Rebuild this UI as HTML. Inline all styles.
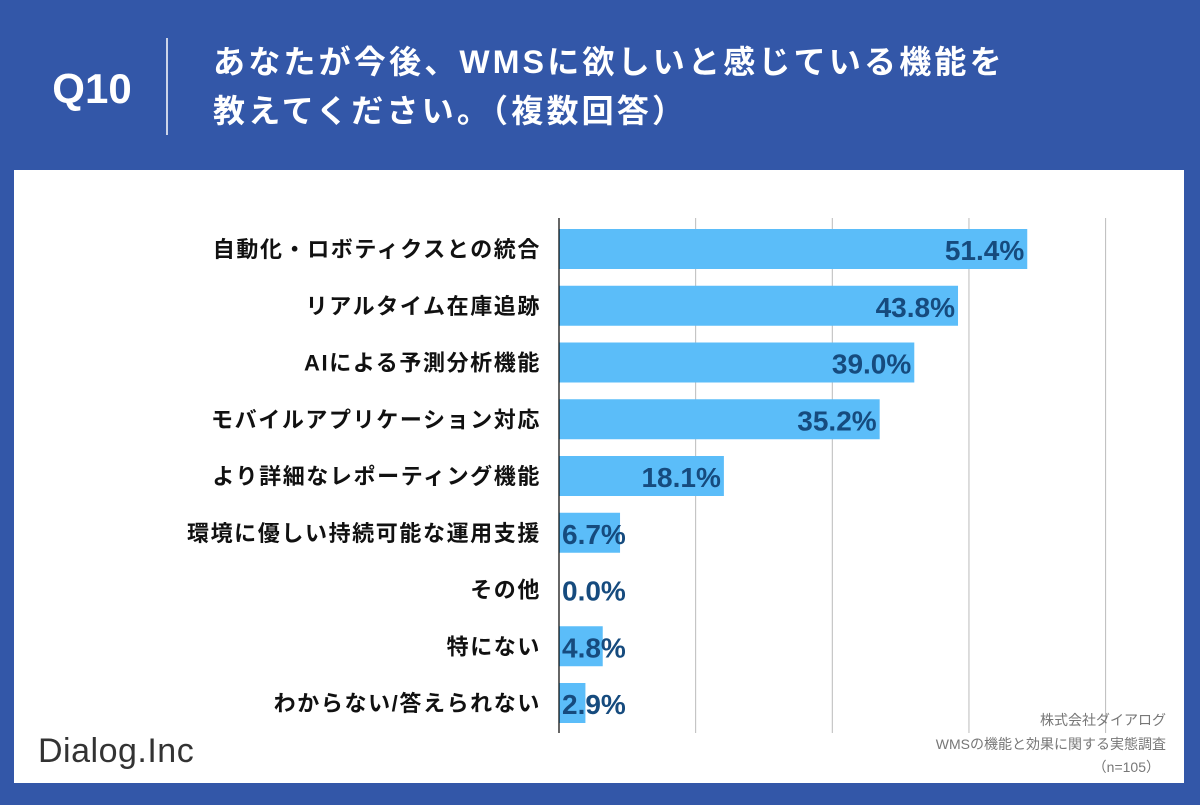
<!DOCTYPE html>
<html><head><meta charset="utf-8"><style>
body{margin:0;width:1200px;height:800px;background:#3357a8;font-family:"Liberation Sans","Noto Sans CJK JP",sans-serif;overflow:hidden}
</style></head><body>
<svg width="1200" height="800" xmlns="http://www.w3.org/2000/svg">
<rect x="0" y="0" width="1200" height="800" fill="#3357a8"/>
<text x="92" y="103" font-size="42" font-weight="bold" fill="#fff" text-anchor="middle" font-family="Liberation Sans, sans-serif">Q10</text>
<line x1="167" y1="38" x2="167" y2="135" stroke="#fff" stroke-width="1.5"/>
<text x="213" y="73" font-size="32" font-weight="bold" fill="#fff" letter-spacing="3.2" font-family="Liberation Sans, Noto Sans CJK JP, sans-serif">あなたが今後、WMSに欲しいと感じている機能を</text>
<text x="213" y="122" font-size="32" font-weight="bold" fill="#fff" letter-spacing="3.2" font-family="Liberation Sans, Noto Sans CJK JP, sans-serif">教えてください。（複数回答）</text>
<rect x="14" y="170" width="1170" height="613" fill="#fff"/>
<g id="grid"></g><g id="bars"></g>
<text x="38" y="762" font-size="34" fill="#333" letter-spacing="0.5" font-family="Liberation Sans, sans-serif">Dialog.Inc</text>
<g font-size="14" fill="#777" text-anchor="end" font-family="Liberation Sans, Noto Sans CJK JP, sans-serif">
<text x="1166" y="725">株式会社ダイアログ</text>
<text x="1166" y="749">WMSの機能と効果に関する実態調査</text>
<text x="1160" y="772">（n=105）</text>
</g>
</svg>
<script>
const categories=["自動化・ロボティクスとの統合","リアルタイム在庫追跡","AIによる予測分析機能","モバイルアプリケーション対応","より詳細なレポーティング機能","環境に優しい持続可能な運用支援","その他","特にない","わからない/答えられない"];
const values=[51.4,43.8,39.0,35.2,18.1,6.7,0.0,4.8,2.9];
const gridTicks=[15,30,45,60];
const NS="http://www.w3.org/2000/svg";
const x0=559,pxPer=9.11,top0=229,step=56.75,bh=40,axisTop=218,axisBot=733;
const xs=v=>x0+v*pxPer;
function mk(tag,attrs,parent){const e=document.createElementNS(NS,tag);for(const k in attrs)e.setAttribute(k,attrs[k]);parent.appendChild(e);return e;}
const grid=document.getElementById('grid'),bars=document.getElementById('bars');
gridTicks.forEach(t=>{
 const l=mk('line',{x1:xs(t),x2:xs(t),y1:axisTop,y2:axisBot,stroke:'#bbb','stroke-width':1},grid);
 
 
});
categories.forEach((c,i)=>{
 const y=top0+i*step,v=values[i];
 const r=mk('rect',{x:x0,y:y,width:v*pxPer,height:bh,fill:'#5bbdf9'},bars);
 
 
 const lb=mk('text',{x:541,y:y+28,'font-size':22,'font-weight':'bold',fill:'#111','text-anchor':'end','letter-spacing':1.6,'font-family':'Liberation Sans, Noto Sans CJK JP, sans-serif'},bars);
 lb.textContent=c;
 
 
 const short=xs(v)-3<630;
 const vt=mk('text',{x:short?562:xs(v)-3,y:y+31,'font-size':28,'font-weight':'bold',fill:'#164b7e','text-anchor':short?'start':'end','font-family':'Liberation Sans, sans-serif'},bars);
 vt.textContent=v.toFixed(1)+'%';
 
 
});
const ax=mk('line',{x1:x0,x2:x0,y1:axisTop,y2:axisBot,stroke:'#000','stroke-width':1.2},bars);


</script>
</body></html>
